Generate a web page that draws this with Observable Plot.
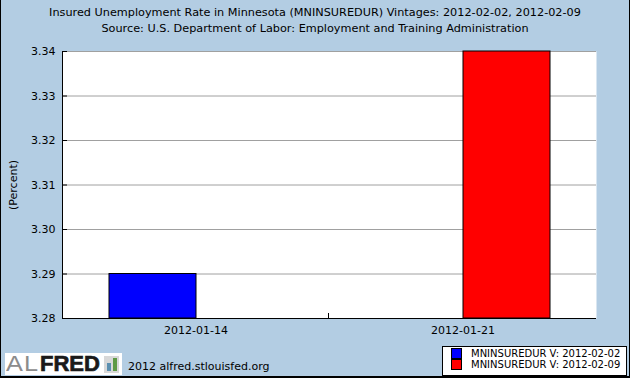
<!DOCTYPE html>
<html>
<head>
<meta charset="utf-8">
<script src="https://cdn.jsdelivr.net/npm/d3@7"></script>
<script src="https://cdn.jsdelivr.net/npm/@observablehq/plot@0.6"></script>
<style>
body { margin: 0; }
#chart { position: relative; width: 630px; height: 378px; box-sizing: border-box; background: #b3cde3;
  border-left: 1px solid #000; border-right: 1px solid #000; border-bottom: 2px solid #000;
  font-family: "DejaVu Sans", sans-serif; color: #000; overflow: hidden; }
#title { position: absolute; left: 0; top: 5px; width: 628px; text-align: center; font-size: 11.25px; line-height: 16px; }
#plot { position: absolute; left: 0; top: 41px; }
#logo { position: absolute; left: 4px; top: 353px; width: 117px; height: 22px; background: #fff; }
#logo .al { position: absolute; left: 1px; top: 0; line-height: 22px; font-family: "Liberation Sans", sans-serif; font-size: 22px; color: #8c8c8c; letter-spacing: 1px; transform: scaleX(1.15); transform-origin: left center; }
#logo .fred { position: absolute; left: 35px; top: 0; line-height: 22px; font-family: "Liberation Sans", sans-serif; font-weight: bold; font-size: 22px; color: #1a1a1a; -webkit-text-stroke: 0.7px #1a1a1a; }
#logo .icon { position: absolute; left: 99px; top: 3px; width: 15px; height: 17px; background: #d8d8d8; }
#logo .b1 { position: absolute; left: 3px; bottom: 2px; width: 4px; height: 8px; background: #5b8fb0; }
#logo .b2 { position: absolute; left: 9px; bottom: 2px; width: 4px; height: 13px; background: #5e9a45; }
#site { position: absolute; left: 127px; top: 360px; font-size: 11px; }
#legend { position: absolute; left: 441px; top: 346px; width: 185px; height: 30px; box-sizing: border-box; background: #fff; border: 1px solid #000; }
#legend .row { position: absolute; left: 8px; height: 11px; font-size: 10px; line-height: 11px; white-space: nowrap; }
#legend .sw { position: absolute; left: 0; top: 0; width: 11px; height: 11px; box-sizing: border-box; border: 1px solid #000; }
#legend .lab { position: absolute; left: 20px; top: 0; }
</style>
</head>
<body>
<div id="chart">
  <div id="title">Insured Unemployment Rate in Minnesota (MNINSUREDUR) Vintages: 2012-02-02, 2012-02-09<br>Source: U.S. Department of Labor: Employment and Training Administration</div>
  <div id="plot"></div>
  <div id="logo"><span class="al">AL</span><span class="fred">FRED</span><div class="icon"><div class="b1"></div><div class="b2"></div></div></div>
  <div id="site">2012 alfred.stlouisfed.org</div>
  <div id="legend"></div>
</div>
<script>
const dates = ["2012-01-14", "2012-01-21"];
const vintages = ["MNINSUREDUR V: 2012-02-02", "MNINSUREDUR V: 2012-02-09"];
const colors = ["#0000ff", "#ff0000"];
const barDates = ["2012-01-14", "2012-01-21"];
const barVintages = ["MNINSUREDUR V: 2012-02-02", "MNINSUREDUR V: 2012-02-09"];
const barValues = [3.29, 3.34];
const yTicks = [3.28, 3.29, 3.30, 3.31, 3.32, 3.33, 3.34];
const yLabel = "(Percent)";

const data = barValues.map((v, i) => ({date: barDates[i], vintage: barVintages[i], value: v}));

const chart = Plot.plot({
  width: 628, height: 299,
  marginLeft: 61, marginRight: 33, marginTop: 10, marginBottom: 22,
  style: {background: "transparent", fontFamily: "DejaVu Sans", fontSize: "11px", color: "#000", overflow: "visible"},
  fx: {domain: dates, padding: 0, axis: null, label: null},
  x: {domain: vintages, axis: null, paddingInner: 0, paddingOuter: 0.53},
  y: {domain: [yTicks[0], yTicks[yTicks.length - 1]], axis: null},
  color: {domain: vintages, range: colors},
  marks: [
    Plot.frame({facet: "super", fill: "#fff", stroke: null}),
    Plot.gridY(yTicks, {stroke: "#a0a0a0", strokeOpacity: 1}),
    Plot.barY(data, {fx: "date", x: "vintage", y1: () => yTicks[0], y2: "value", fill: "vintage", stroke: "#000"}),
    Plot.ruleY([yTicks[0]], {stroke: "#000"}),
    Plot.frame({facet: "super", anchor: "left", stroke: "#000"}),
    Plot.axisY(yTicks, {anchor: "left", tickSize: -5, tickPadding: 12, tickFormat: d3.format(".2f"),
      label: yLabel, labelAnchor: "center", labelOffset: 53, labelArrow: "none"}),
    Plot.axisFx({anchor: "bottom", tickSize: 0, tickPadding: 8, label: null}),
    Plot.frame({facet: "super", stroke: null, render: (index, scales, values, dimensions) => {
      const g = d3.create("svg:g");
      const fx = scales.fx;
      if (!fx) return g.node();
      const yb = dimensions.height - dimensions.marginBottom;
      dates.slice(1).forEach(d => {
        const x = Math.round(fx(d)) - 0.5;
        g.append("line").attr("x1", x).attr("x2", x).attr("y1", yb).attr("y2", yb - 5).attr("stroke", "#000");
      });
      return g.node();
    }})
  ]
});
document.getElementById("plot").appendChild(chart);

const legend = d3.select("#legend");
vintages.forEach((v, i) => {
  const row = legend.append("div").attr("class", "row").style("top", (1 + i * 11) + "px");
  row.append("div").attr("class", "sw").style("background", colors[i]);
  row.append("div").attr("class", "lab").text(v);
});
</script>
</body>
</html>
